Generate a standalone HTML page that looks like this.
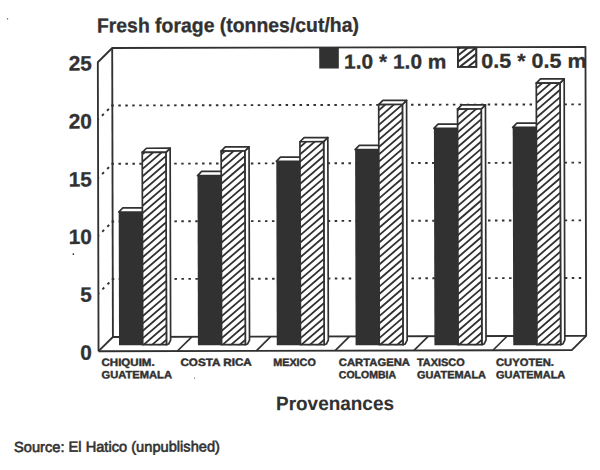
<!DOCTYPE html><html><head><meta charset="utf-8"><title>Fresh forage chart</title><style>html,body{margin:0;padding:0;background:#fff;overflow:hidden}svg{display:block}</style></head><body><svg width="600" height="470" viewBox="0 0 600 470"><defs><clipPath id="c0"><rect x="142.37" y="151.95" width="23.70" height="192.84"/></clipPath><clipPath id="c1"><rect x="221.26" y="150.75" width="23.70" height="194.24"/></clipPath><clipPath id="c2"><rect x="300.09" y="141.64" width="23.70" height="203.54"/></clipPath><clipPath id="c3"><rect x="378.92" y="104.63" width="23.70" height="240.74"/></clipPath><clipPath id="c4"><rect x="457.77" y="109.32" width="23.70" height="236.24"/></clipPath><clipPath id="c5"><rect x="536.58" y="83.62" width="23.70" height="262.14"/></clipPath><clipPath id="cl"><rect x="458.27" y="47.87" width="18.40" height="19.30"/></clipPath></defs><rect width="600" height="470" fill="#ffffff"/><g transform="rotate(-0.14 349.0 200.0)">
<line x1="111.57" y1="104.90" x2="584.83" y2="104.90" stroke="#313131" stroke-width="1.9" stroke-dasharray="2.5 4.47"/>
<line x1="112.57" y1="104.90" x2="98.17" y2="119.10" stroke="#313131" stroke-width="1.9" stroke-dasharray="2.6 4.55" stroke-dashoffset="2.3"/>
<line x1="111.57" y1="163.20" x2="584.83" y2="163.20" stroke="#313131" stroke-width="1.9" stroke-dasharray="2.5 4.47"/>
<line x1="112.57" y1="163.20" x2="98.17" y2="177.40" stroke="#313131" stroke-width="1.9" stroke-dasharray="2.6 4.55" stroke-dashoffset="2.3"/>
<line x1="111.57" y1="220.90" x2="584.83" y2="220.90" stroke="#313131" stroke-width="1.9" stroke-dasharray="2.5 4.47"/>
<line x1="112.57" y1="220.90" x2="98.17" y2="235.10" stroke="#313131" stroke-width="1.9" stroke-dasharray="2.6 4.55" stroke-dashoffset="2.3"/>
<line x1="111.57" y1="278.50" x2="584.83" y2="278.50" stroke="#313131" stroke-width="1.9" stroke-dasharray="2.5 4.47"/>
<line x1="112.57" y1="278.50" x2="98.17" y2="292.70" stroke="#313131" stroke-width="1.9" stroke-dasharray="2.6 4.55" stroke-dashoffset="2.3"/>
<polyline points="98.17,350.59999999999997 98.17,61.650000000000006 112.57,47.45 585.83,47.45 585.83,336.4 571.43,350.59999999999997 98.17,350.59999999999997" fill="none" stroke="#313131" stroke-width="1.85" stroke-linejoin="round"/>
<line x1="112.57" y1="47.45" x2="112.57" y2="336.4" stroke="#313131" stroke-width="1.85"/>
<line x1="112.57" y1="336.4" x2="585.83" y2="336.4" stroke="#313131" stroke-width="1.85"/>
<line x1="112.57" y1="336.4" x2="98.17" y2="350.59999999999997" stroke="#313131" stroke-width="1.85"/>
<line x1="191.45" y1="336.4" x2="177.05" y2="350.59999999999997" stroke="#313131" stroke-width="1.7"/>
<line x1="270.33" y1="336.4" x2="255.93" y2="350.59999999999997" stroke="#313131" stroke-width="1.7"/>
<line x1="349.20" y1="336.4" x2="334.80" y2="350.59999999999997" stroke="#313131" stroke-width="1.7"/>
<line x1="428.08" y1="336.4" x2="413.68" y2="350.59999999999997" stroke="#313131" stroke-width="1.7"/>
<line x1="506.96" y1="336.4" x2="492.56" y2="350.59999999999997" stroke="#313131" stroke-width="1.7"/>
<polygon points="118.67,211.44 122.87,207.24 146.57,207.24 142.37,211.44" fill="#fff" stroke="#313131" stroke-width="1.7" stroke-linejoin="round"/>
<rect x="118.67" y="211.44" width="23.7" height="133.36" fill="#313131"/>
<polygon points="166.07,151.95 170.27,147.75 170.27,339.59 168.27,343.59 166.07,344.19" fill="#fff" stroke="#313131" stroke-width="1.7" stroke-linejoin="round"/>
<polygon points="142.37,151.95 146.57,147.75 170.27,147.75 166.07,151.95" fill="#fff" stroke="#313131" stroke-width="1.7" stroke-linejoin="round"/>
<rect x="142.37" y="151.95" width="23.7" height="192.24" fill="#fff"/>
<path d="M141.37,140.11L167.07,118.00M141.37,147.46L167.07,125.35M141.37,154.81L167.07,132.70M141.37,162.16L167.07,140.05M141.37,169.51L167.07,147.40M141.37,176.86L167.07,154.75M141.37,184.21L167.07,162.10M141.37,191.56L167.07,169.45M141.37,198.91L167.07,176.80M141.37,206.26L167.07,184.15M141.37,213.61L167.07,191.50M141.37,220.96L167.07,198.85M141.37,228.31L167.07,206.20M141.37,235.66L167.07,213.55M141.37,243.01L167.07,220.90M141.37,250.36L167.07,228.25M141.37,257.71L167.07,235.60M141.37,265.06L167.07,242.95M141.37,272.41L167.07,250.30M141.37,279.76L167.07,257.65M141.37,287.11L167.07,265.00M141.37,294.46L167.07,272.35M141.37,301.81L167.07,279.70M141.37,309.16L167.07,287.05M141.37,316.51L167.07,294.40M141.37,323.86L167.07,301.75M141.37,331.21L167.07,309.10M141.37,338.56L167.07,316.45M141.37,345.91L167.07,323.80M141.37,353.26L167.07,331.15M141.37,360.61L167.07,338.50M141.37,367.96L167.07,345.85M141.37,375.31L167.07,353.20" stroke="#313131" stroke-width="1.8" fill="none" clip-path="url(#c0)"/>
<rect x="142.37" y="151.95" width="23.7" height="192.24" fill="none" stroke="#313131" stroke-width="1.7"/>
<polygon points="197.56,175.23 201.76,171.03 225.46,171.03 221.26,175.23" fill="#fff" stroke="#313131" stroke-width="1.7" stroke-linejoin="round"/>
<rect x="197.56" y="175.23" width="23.7" height="169.76" fill="#313131"/>
<polygon points="244.96,150.75 249.16,146.55 249.16,339.79 247.16,343.79 244.96,344.39" fill="#fff" stroke="#313131" stroke-width="1.7" stroke-linejoin="round"/>
<polygon points="221.26,150.75 225.46,146.55 249.16,146.55 244.96,150.75" fill="#fff" stroke="#313131" stroke-width="1.7" stroke-linejoin="round"/>
<rect x="221.26" y="150.75" width="23.7" height="193.64" fill="#fff"/>
<path d="M220.26,140.30L245.96,118.20M220.26,147.65L245.96,125.55M220.26,155.00L245.96,132.90M220.26,162.35L245.96,140.25M220.26,169.70L245.96,147.60M220.26,177.05L245.96,154.95M220.26,184.40L245.96,162.30M220.26,191.75L245.96,169.65M220.26,199.10L245.96,177.00M220.26,206.45L245.96,184.35M220.26,213.80L245.96,191.70M220.26,221.15L245.96,199.05M220.26,228.50L245.96,206.40M220.26,235.85L245.96,213.75M220.26,243.20L245.96,221.10M220.26,250.55L245.96,228.45M220.26,257.90L245.96,235.80M220.26,265.25L245.96,243.15M220.26,272.60L245.96,250.50M220.26,279.95L245.96,257.85M220.26,287.30L245.96,265.20M220.26,294.65L245.96,272.55M220.26,302.00L245.96,279.90M220.26,309.35L245.96,287.25M220.26,316.70L245.96,294.60M220.26,324.05L245.96,301.95M220.26,331.40L245.96,309.30M220.26,338.75L245.96,316.65M220.26,346.10L245.96,324.00M220.26,353.45L245.96,331.35M220.26,360.80L245.96,338.70M220.26,368.15L245.96,346.05M220.26,375.50L245.96,353.40" stroke="#313131" stroke-width="1.8" fill="none" clip-path="url(#c1)"/>
<rect x="221.26" y="150.75" width="23.7" height="193.64" fill="none" stroke="#313131" stroke-width="1.7"/>
<polygon points="276.39,161.12 280.59,156.92 304.29,156.92 300.09,161.12" fill="#fff" stroke="#313131" stroke-width="1.7" stroke-linejoin="round"/>
<rect x="276.39" y="161.12" width="23.7" height="184.06" fill="#313131"/>
<polygon points="323.79,141.64 327.99,137.44 327.99,339.98 325.99,343.98 323.79,344.58" fill="#fff" stroke="#313131" stroke-width="1.7" stroke-linejoin="round"/>
<polygon points="300.09,141.64 304.29,137.44 327.99,137.44 323.79,141.64" fill="#fff" stroke="#313131" stroke-width="1.7" stroke-linejoin="round"/>
<rect x="300.09" y="141.64" width="23.7" height="202.94" fill="#fff"/>
<path d="M299.09,133.14L324.79,111.04M299.09,140.49L324.79,118.39M299.09,147.84L324.79,125.74M299.09,155.19L324.79,133.09M299.09,162.54L324.79,140.44M299.09,169.89L324.79,147.79M299.09,177.24L324.79,155.14M299.09,184.59L324.79,162.49M299.09,191.94L324.79,169.84M299.09,199.29L324.79,177.19M299.09,206.64L324.79,184.54M299.09,213.99L324.79,191.89M299.09,221.34L324.79,199.24M299.09,228.69L324.79,206.59M299.09,236.04L324.79,213.94M299.09,243.39L324.79,221.29M299.09,250.74L324.79,228.64M299.09,258.09L324.79,235.99M299.09,265.44L324.79,243.34M299.09,272.79L324.79,250.69M299.09,280.14L324.79,258.04M299.09,287.49L324.79,265.39M299.09,294.84L324.79,272.74M299.09,302.19L324.79,280.09M299.09,309.54L324.79,287.44M299.09,316.89L324.79,294.79M299.09,324.24L324.79,302.14M299.09,331.59L324.79,309.49M299.09,338.94L324.79,316.84M299.09,346.29L324.79,324.19M299.09,353.64L324.79,331.54M299.09,360.99L324.79,338.89M299.09,368.34L324.79,346.24M299.09,375.69L324.79,353.59" stroke="#313131" stroke-width="1.8" fill="none" clip-path="url(#c2)"/>
<rect x="300.09" y="141.64" width="23.7" height="202.94" fill="none" stroke="#313131" stroke-width="1.7"/>
<polygon points="355.22,149.62 359.42,145.42 383.12,145.42 378.92,149.62" fill="#fff" stroke="#313131" stroke-width="1.7" stroke-linejoin="round"/>
<rect x="355.22" y="149.62" width="23.7" height="195.76" fill="#313131"/>
<polygon points="402.62,104.63 406.82,100.43 406.82,340.17 404.82,344.17 402.62,344.77" fill="#fff" stroke="#313131" stroke-width="1.7" stroke-linejoin="round"/>
<polygon points="378.92,104.63 383.12,100.43 406.82,100.43 402.62,104.63" fill="#fff" stroke="#313131" stroke-width="1.7" stroke-linejoin="round"/>
<rect x="378.92" y="104.63" width="23.7" height="240.14" fill="#fff"/>
<path d="M377.92,96.58L403.62,74.48M377.92,103.93L403.62,81.83M377.92,111.28L403.62,89.18M377.92,118.63L403.62,96.53M377.92,125.98L403.62,103.88M377.92,133.33L403.62,111.23M377.92,140.68L403.62,118.58M377.92,148.03L403.62,125.93M377.92,155.38L403.62,133.28M377.92,162.73L403.62,140.63M377.92,170.08L403.62,147.98M377.92,177.43L403.62,155.33M377.92,184.78L403.62,162.68M377.92,192.13L403.62,170.03M377.92,199.48L403.62,177.38M377.92,206.83L403.62,184.73M377.92,214.18L403.62,192.08M377.92,221.53L403.62,199.43M377.92,228.88L403.62,206.78M377.92,236.23L403.62,214.13M377.92,243.58L403.62,221.48M377.92,250.93L403.62,228.83M377.92,258.28L403.62,236.18M377.92,265.63L403.62,243.53M377.92,272.98L403.62,250.88M377.92,280.33L403.62,258.23M377.92,287.68L403.62,265.58M377.92,295.03L403.62,272.93M377.92,302.38L403.62,280.28M377.92,309.73L403.62,287.63M377.92,317.08L403.62,294.98M377.92,324.43L403.62,302.33M377.92,331.78L403.62,309.68M377.92,339.13L403.62,317.03M377.92,346.48L403.62,324.38M377.92,353.83L403.62,331.73M377.92,361.18L403.62,339.08M377.92,368.53L403.62,346.43M377.92,375.88L403.62,353.78" stroke="#313131" stroke-width="1.8" fill="none" clip-path="url(#c3)"/>
<rect x="378.92" y="104.63" width="23.7" height="240.14" fill="none" stroke="#313131" stroke-width="1.7"/>
<polygon points="434.07,128.51 438.27,124.31 461.97,124.31 457.77,128.51" fill="#fff" stroke="#313131" stroke-width="1.7" stroke-linejoin="round"/>
<rect x="434.07" y="128.51" width="23.7" height="217.06" fill="#313131"/>
<polygon points="481.47,109.32 485.67,105.12 485.67,340.36 483.67,344.36 481.47,344.96" fill="#fff" stroke="#313131" stroke-width="1.7" stroke-linejoin="round"/>
<polygon points="457.77,109.32 461.97,105.12 485.67,105.12 481.47,109.32" fill="#fff" stroke="#313131" stroke-width="1.7" stroke-linejoin="round"/>
<rect x="457.77" y="109.32" width="23.7" height="235.64" fill="#fff"/>
<path d="M456.77,96.78L482.47,74.67M456.77,104.13L482.47,82.02M456.77,111.48L482.47,89.37M456.77,118.83L482.47,96.72M456.77,126.18L482.47,104.07M456.77,133.53L482.47,111.42M456.77,140.88L482.47,118.77M456.77,148.23L482.47,126.12M456.77,155.58L482.47,133.47M456.77,162.93L482.47,140.82M456.77,170.28L482.47,148.17M456.77,177.63L482.47,155.52M456.77,184.98L482.47,162.87M456.77,192.33L482.47,170.22M456.77,199.68L482.47,177.57M456.77,207.03L482.47,184.92M456.77,214.38L482.47,192.27M456.77,221.73L482.47,199.62M456.77,229.08L482.47,206.97M456.77,236.43L482.47,214.32M456.77,243.78L482.47,221.67M456.77,251.13L482.47,229.02M456.77,258.48L482.47,236.37M456.77,265.83L482.47,243.72M456.77,273.18L482.47,251.07M456.77,280.53L482.47,258.42M456.77,287.88L482.47,265.77M456.77,295.23L482.47,273.12M456.77,302.58L482.47,280.47M456.77,309.93L482.47,287.82M456.77,317.28L482.47,295.17M456.77,324.63L482.47,302.52M456.77,331.98L482.47,309.87M456.77,339.33L482.47,317.22M456.77,346.68L482.47,324.57M456.77,354.03L482.47,331.92M456.77,361.38L482.47,339.27M456.77,368.73L482.47,346.62M456.77,376.08L482.47,353.97" stroke="#313131" stroke-width="1.8" fill="none" clip-path="url(#c4)"/>
<rect x="457.77" y="109.32" width="23.7" height="235.64" fill="none" stroke="#313131" stroke-width="1.7"/>
<polygon points="512.88,127.80 517.08,123.60 540.78,123.60 536.58,127.80" fill="#fff" stroke="#313131" stroke-width="1.7" stroke-linejoin="round"/>
<rect x="512.88" y="127.80" width="23.7" height="217.96" fill="#313131"/>
<polygon points="560.28,83.62 564.48,79.42 564.48,340.56 562.48,344.56 560.28,345.16" fill="#fff" stroke="#313131" stroke-width="1.7" stroke-linejoin="round"/>
<polygon points="536.58,83.62 540.78,79.42 564.48,79.42 560.28,83.62" fill="#fff" stroke="#313131" stroke-width="1.7" stroke-linejoin="round"/>
<rect x="536.58" y="83.62" width="23.7" height="261.54" fill="#fff"/>
<path d="M535.58,74.92L561.28,52.82M535.58,82.27L561.28,60.17M535.58,89.62L561.28,67.52M535.58,96.97L561.28,74.87M535.58,104.32L561.28,82.22M535.58,111.67L561.28,89.57M535.58,119.02L561.28,96.92M535.58,126.37L561.28,104.27M535.58,133.72L561.28,111.62M535.58,141.07L561.28,118.97M535.58,148.42L561.28,126.32M535.58,155.77L561.28,133.67M535.58,163.12L561.28,141.02M535.58,170.47L561.28,148.37M535.58,177.82L561.28,155.72M535.58,185.17L561.28,163.07M535.58,192.52L561.28,170.42M535.58,199.87L561.28,177.77M535.58,207.22L561.28,185.12M535.58,214.57L561.28,192.47M535.58,221.92L561.28,199.82M535.58,229.27L561.28,207.17M535.58,236.62L561.28,214.52M535.58,243.97L561.28,221.87M535.58,251.32L561.28,229.22M535.58,258.67L561.28,236.57M535.58,266.02L561.28,243.92M535.58,273.37L561.28,251.27M535.58,280.72L561.28,258.62M535.58,288.07L561.28,265.97M535.58,295.42L561.28,273.32M535.58,302.77L561.28,280.67M535.58,310.12L561.28,288.02M535.58,317.47L561.28,295.37M535.58,324.82L561.28,302.72M535.58,332.17L561.28,310.07M535.58,339.52L561.28,317.42M535.58,346.87L561.28,324.77M535.58,354.22L561.28,332.12M535.58,361.57L561.28,339.47M535.58,368.92L561.28,346.82M535.58,376.27L561.28,354.17" stroke="#313131" stroke-width="1.8" fill="none" clip-path="url(#c5)"/>
<rect x="536.58" y="83.62" width="23.7" height="261.54" fill="none" stroke="#313131" stroke-width="1.7"/>
<rect x="319.57" y="47.93" width="19.6" height="20.5" fill="#313131"/>
<rect x="458.27" y="47.87" width="18.4" height="19.3" fill="#fff" stroke="#313131" stroke-width="1.7"/>
<path d="M457.27,37.35L477.67,21.43M457.27,43.75L477.67,27.83M457.27,50.15L477.67,34.23M457.27,56.55L477.67,40.63M457.27,62.95L477.67,47.03M457.27,69.35L477.67,53.43M457.27,75.75L477.67,59.83M457.27,82.15L477.67,66.23M457.27,88.55L477.67,72.63M457.27,94.95L477.67,79.03" stroke="#313131" stroke-width="2.0" fill="none" clip-path="url(#cl)"/>
<rect x="458.27" y="47.87" width="18.4" height="19.3" fill="none" stroke="#313131" stroke-width="1.7"/>
<text x="97.31" y="31.78" font-family="'Liberation Sans', Arial, Helvetica, sans-serif" font-size="20.2" font-weight="bold" fill="#313131" text-anchor="start" textLength="262" lengthAdjust="spacingAndGlyphs" stroke="#313131" stroke-width="0.3">Fresh forage (tonnes/cut/ha)</text>
<text x="344.32" y="68.59" font-family="'Liberation Sans', Arial, Helvetica, sans-serif" font-size="20" font-weight="bold" fill="#313131" text-anchor="start" textLength="102.5" lengthAdjust="spacingAndGlyphs" stroke="#313131" stroke-width="0.3">1.0 * 1.0 m</text>
<text x="481.52" y="68.22" font-family="'Liberation Sans', Arial, Helvetica, sans-serif" font-size="20" font-weight="bold" fill="#313131" text-anchor="start" textLength="105.5" lengthAdjust="spacingAndGlyphs" stroke="#313131" stroke-width="0.3">0.5 * 0.5 m</text>
<text x="91.41" y="359.07" font-family="'Liberation Sans', Arial, Helvetica, sans-serif" font-size="20.8" font-weight="bold" fill="#313131" text-anchor="end" stroke="#313131" stroke-width="0.3">0</text>
<text x="91.55" y="300.97" font-family="'Liberation Sans', Arial, Helvetica, sans-serif" font-size="20.8" font-weight="bold" fill="#313131" text-anchor="end" stroke="#313131" stroke-width="0.3">5</text>
<text x="91.69" y="243.37" font-family="'Liberation Sans', Arial, Helvetica, sans-serif" font-size="20.8" font-weight="bold" fill="#313131" text-anchor="end" stroke="#313131" stroke-width="0.3">10</text>
<text x="91.83" y="185.77" font-family="'Liberation Sans', Arial, Helvetica, sans-serif" font-size="20.8" font-weight="bold" fill="#313131" text-anchor="end" stroke="#313131" stroke-width="0.3">15</text>
<text x="91.98" y="127.87" font-family="'Liberation Sans', Arial, Helvetica, sans-serif" font-size="20.8" font-weight="bold" fill="#313131" text-anchor="end" stroke="#313131" stroke-width="0.3">20</text>
<text x="92.12" y="69.87" font-family="'Liberation Sans', Arial, Helvetica, sans-serif" font-size="20.8" font-weight="bold" fill="#313131" text-anchor="end" stroke="#313131" stroke-width="0.3">25</text>
<text x="101.10" y="365.39" font-family="'Liberation Sans', Arial, Helvetica, sans-serif" font-size="10.6" font-weight="bold" fill="#313131" text-anchor="start" textLength="53.2" lengthAdjust="spacingAndGlyphs" stroke="#313131" stroke-width="0.45">CHIQUIM.</text>
<text x="101.06" y="377.79" font-family="'Liberation Sans', Arial, Helvetica, sans-serif" font-size="10.6" font-weight="bold" fill="#313131" text-anchor="start" textLength="70.5" lengthAdjust="spacingAndGlyphs" stroke="#313131" stroke-width="0.45">GUATEMALA</text>
<text x="179.99" y="365.59" font-family="'Liberation Sans', Arial, Helvetica, sans-serif" font-size="10.6" font-weight="bold" fill="#313131" text-anchor="start" textLength="71.4" lengthAdjust="spacingAndGlyphs" stroke="#313131" stroke-width="0.45">COSTA RICA</text>
<text x="272.79" y="365.81" font-family="'Liberation Sans', Arial, Helvetica, sans-serif" font-size="10.6" font-weight="bold" fill="#313131" text-anchor="start" textLength="42.6" lengthAdjust="spacingAndGlyphs" stroke="#313131" stroke-width="0.45">MEXICO</text>
<text x="338.39" y="365.97" font-family="'Liberation Sans', Arial, Helvetica, sans-serif" font-size="10.6" font-weight="bold" fill="#313131" text-anchor="start" textLength="71.2" lengthAdjust="spacingAndGlyphs" stroke="#313131" stroke-width="0.45">CARTAGENA</text>
<text x="338.36" y="378.37" font-family="'Liberation Sans', Arial, Helvetica, sans-serif" font-size="10.6" font-weight="bold" fill="#313131" text-anchor="start" textLength="57.2" lengthAdjust="spacingAndGlyphs" stroke="#313131" stroke-width="0.45">COLOMBIA</text>
<text x="416.59" y="366.17" font-family="'Liberation Sans', Arial, Helvetica, sans-serif" font-size="10.6" font-weight="bold" fill="#313131" text-anchor="start" textLength="47.7" lengthAdjust="spacingAndGlyphs" stroke="#313131" stroke-width="0.45">TAXISCO</text>
<text x="416.56" y="378.57" font-family="'Liberation Sans', Arial, Helvetica, sans-serif" font-size="10.6" font-weight="bold" fill="#313131" text-anchor="start" textLength="69" lengthAdjust="spacingAndGlyphs" stroke="#313131" stroke-width="0.45">GUATEMALA</text>
<text x="495.59" y="366.36" font-family="'Liberation Sans', Arial, Helvetica, sans-serif" font-size="10.6" font-weight="bold" fill="#313131" text-anchor="start" textLength="58" lengthAdjust="spacingAndGlyphs" stroke="#313131" stroke-width="0.45">CUYOTEN.</text>
<text x="495.56" y="378.76" font-family="'Liberation Sans', Arial, Helvetica, sans-serif" font-size="10.6" font-weight="bold" fill="#313131" text-anchor="start" textLength="69.3" lengthAdjust="spacingAndGlyphs" stroke="#313131" stroke-width="0.45">GUATEMALA</text>
<text x="275.49" y="410.02" font-family="'Liberation Sans', Arial, Helvetica, sans-serif" font-size="19.5" font-weight="bold" fill="#313131" text-anchor="start" textLength="118" lengthAdjust="spacingAndGlyphs" stroke="#313131" stroke-width="0.1">Provenances</text>
<text x="13.39" y="451.18" font-family="'Liberation Sans', Arial, Helvetica, sans-serif" font-size="14.6" font-weight="normal" fill="#313131" text-anchor="start" textLength="206" lengthAdjust="spacingAndGlyphs" stroke="#313131" stroke-width="0.6">Source: El Hatico (unpublished)</text>
<circle cx="8" cy="18" r="0.7" fill="#313131"/>
<circle cx="73.2" cy="253.4" r="0.9" fill="#313131"/>
<circle cx="194.2" cy="377.6" r="0.6" fill="#313131"/>
</g></svg></body></html>
